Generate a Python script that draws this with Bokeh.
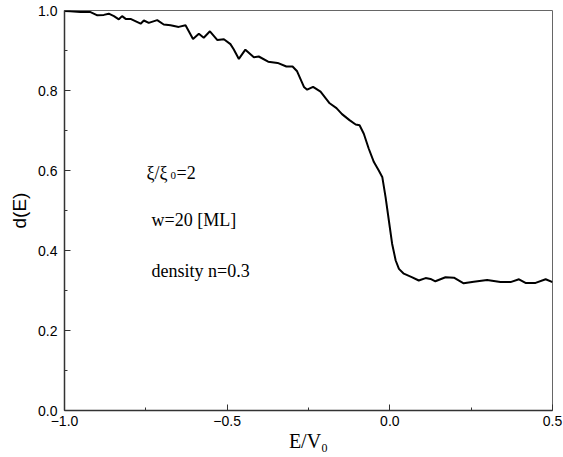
from bokeh.plotting import figure
from bokeh.models import Label, FixedTicker, ColumnDataSource
from bokeh.embed import file_html
from bokeh.resources import INLINE

# ---- data ----
energy = [-1.000, -0.982, -0.951, -0.920, -0.899, -0.879, -0.864, -0.848, -0.833, -0.823,
          -0.812, -0.797, -0.766, -0.756, -0.741, -0.715, -0.695, -0.674, -0.649, -0.628,
          -0.605, -0.587, -0.572, -0.553, -0.530, -0.510, -0.490, -0.480, -0.464, -0.444,
          -0.418, -0.403, -0.374, -0.345, -0.318, -0.299, -0.285, -0.264, -0.254, -0.236,
          -0.213, -0.185, -0.164, -0.147, -0.124, -0.105, -0.093, -0.080, -0.065, -0.049,
          -0.034, -0.023, -0.013, -0.003, 0.007, 0.018, 0.028, 0.043, 0.069, 0.089,
          0.110, 0.125, 0.140, 0.171, 0.197, 0.227, 0.258, 0.299, 0.340, 0.371,
          0.397, 0.417, 0.448, 0.479, 0.500]
d_E = [0.999, 0.998, 0.996, 0.996, 0.988, 0.989, 0.992, 0.986, 0.978, 0.986,
       0.979, 0.979, 0.967, 0.975, 0.969, 0.976, 0.965, 0.963, 0.959, 0.963,
       0.929, 0.942, 0.932, 0.948, 0.926, 0.928, 0.916, 0.903, 0.879, 0.902,
       0.883, 0.885, 0.872, 0.869, 0.860, 0.860, 0.848, 0.809, 0.802, 0.809,
       0.797, 0.768, 0.756, 0.741, 0.726, 0.715, 0.713, 0.692, 0.655, 0.621,
       0.600, 0.583, 0.533, 0.475, 0.417, 0.375, 0.354, 0.342, 0.333, 0.325,
       0.331, 0.329, 0.323, 0.333, 0.332, 0.318, 0.322, 0.326, 0.321, 0.321,
       0.328, 0.319, 0.319, 0.328, 0.321]

x_ticks = [-1.0, -0.5, 0.0, 0.5]
x_tick_labels = ["\u22121.0", "\u22120.5", "0.0", "0.5"]
y_ticks = [0.0, 0.2, 0.4, 0.6, 0.8, 1.0]
y_tick_labels = ["0.0", "0.2", "0.4", "0.6", "0.8", "1.0"]
x_title = "E/V\u2080"
y_title = "d(E)"

W, H = 563, 457
L, R, T, B = 64, 11, 10, 47
XR = (-1.0, 0.5)
YR = (0.0, 1.0)

p = figure(width=W, height=H, x_range=XR, y_range=YR,
           output_backend="svg", toolbar_location=None,
           min_border_left=L, min_border_right=R, min_border_top=T, min_border_bottom=B)
p.xgrid.visible = False
p.ygrid.visible = False
p.background_fill_color = "white"
p.border_fill_color = "white"
p.outline_line_color = "#666666"
p.outline_line_width = 1

p.xaxis.ticker = FixedTicker(ticks=x_ticks, minor_ticks=[-0.75, -0.25, 0.25])
p.yaxis.ticker = FixedTicker(ticks=y_ticks, minor_ticks=[0.1, 0.3, 0.5, 0.7, 0.9])
p.xaxis.major_label_overrides = dict(zip(x_ticks, x_tick_labels))
p.yaxis.major_label_overrides = dict(zip(y_ticks, y_tick_labels))
for ax in (p.xaxis, p.yaxis):
    ax.major_tick_in = 6
    ax.major_tick_out = 0
    ax.minor_tick_in = 3
    ax.minor_tick_out = 0
    ax.axis_line_color = "#333333"
    ax.axis_line_width = 1.5
    ax.major_tick_line_color = "#333333"
    ax.minor_tick_line_color = "#333333"
    ax.major_label_text_font = "Liberation Sans"
    ax.major_label_text_font_size = "14px"
    ax.major_label_text_color = "black"
    ax.axis_label_text_color = "black"
    ax.axis_label_text_font_style = "normal"
p.xaxis.major_label_standoff = 5
p.yaxis.major_label_standoff = 7

p.xaxis.axis_label = x_title
p.xaxis.axis_label_text_font = "Liberation Serif"
p.xaxis.axis_label_text_font_size = "20px"
p.xaxis.axis_label_standoff = 1
p.yaxis.axis_label = y_title
p.yaxis.axis_label_text_font = "Liberation Sans"
p.yaxis.axis_label_text_font_size = "19px"
p.yaxis.axis_label_standoff = 5

src = ColumnDataSource(dict(x=energy, y=d_E))
p.line("x", "y", source=src, line_color="black", line_width=2)

# helpers: pixel position in the picture -> data coordinates (for text placement)
fw = W - L - R
fh = H - T - B
def dx(px):
    return XR[0] + (px - L) / fw * (XR[1] - XR[0])
def dy(py):
    return YR[1] - (py - T) / fh * (YR[1] - YR[0])

def lab(text, px, py, size, font="Liberation Serif"):
    p.add_layout(Label(x=dx(px), y=dy(py), text=text, text_font=font,
                       text_font_size=size, text_color="black",
                       text_baseline="alphabetic", text_align="left"))

# annotations
lab("\u03be/\u03be", 146, 172, "18px")
lab("0", 170, 175, "11px")
lab("=2", 176, 172, "18px")
lab("w=20 [ML]", 151, 219, "18px")
lab("density n=0.3", 151, 270, "18px")

open("out.html", "w").write(file_html(p, INLINE))
